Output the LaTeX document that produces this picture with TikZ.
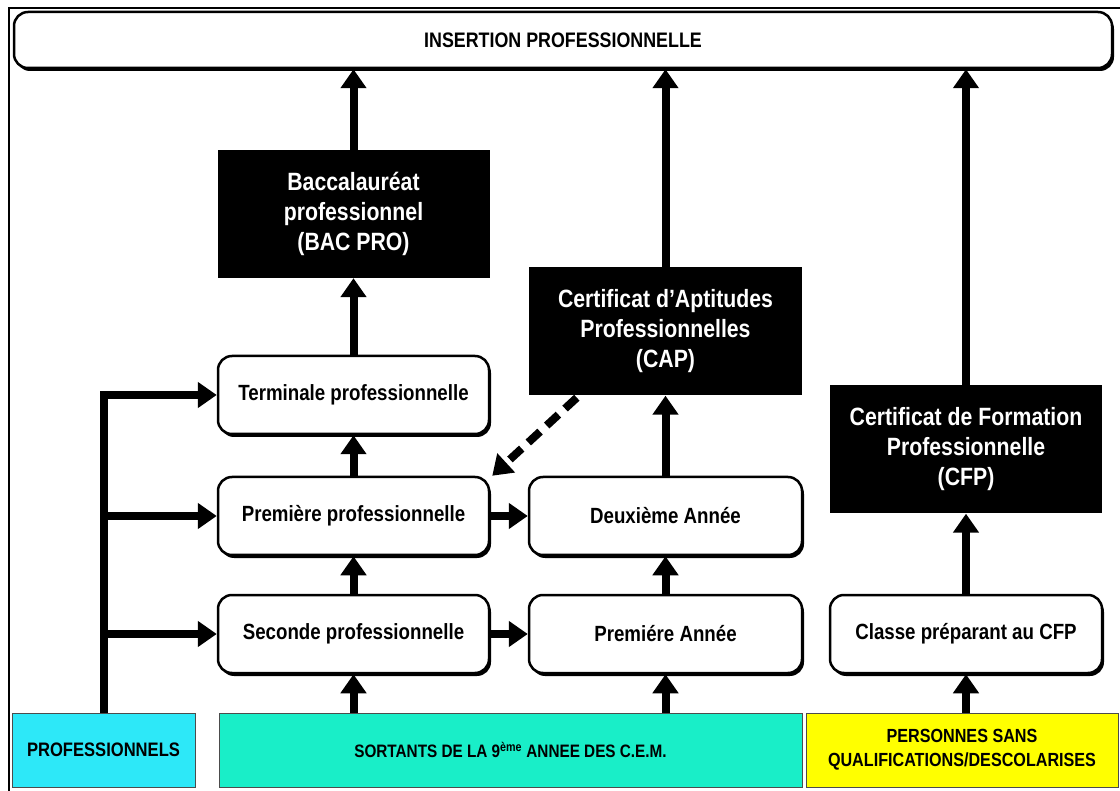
\documentclass[tikz,border=0pt]{standalone}
\usepackage{fontspec}
\setmainfont{Liberation Sans}[FakeStretch=0.85]
\usetikzlibrary{arrows.meta,shadows,calc}
\definecolor{cyanbox}{RGB}{45,232,248}
\definecolor{tealbox}{RGB}{25,238,200}
\definecolor{yelbox}{RGB}{255,255,0}
\tikzset{
  rbox/.style={draw, line width=2.5pt, rounded corners=14pt, fill=white,
    minimum height=78pt, align=center,
    font=\fontsize{22}{26}\selectfont\bfseries,
    drop shadow={shadow xshift=2pt,shadow yshift=-3pt,opacity=1,fill=black}},
  blk/.style={fill=black, text=white, minimum height=128pt, align=center,
    font=\fontsize{25}{30}\selectfont\bfseries},
  bot/.style={draw=black!70, line width=1pt, minimum height=74pt, align=center,
    font=\fontsize{19.5}{23}\selectfont\bfseries},
  arr/.style={line width=8pt, -{Triangle[width=25pt,length=19pt]}},
  darr/.style={line width=8pt, dash pattern=on 16pt off 9pt, -{Triangle[width=25pt,length=19pt]}}
}
\begin{document}
\begin{tikzpicture}[x=1pt,y=-1pt]
\useasboundingbox (0,0) rectangle (1120,791);
\fill[white] (0,0) rectangle (1120,791);
\draw[line width=2pt] (9,791) -- (9,8) -- (1120,8);
% top
\node[rbox, minimum width=1098pt, minimum height=56pt, font=\fontsize{21}{25}\selectfont\bfseries] (ins) at (563,40) {INSERTION PROFESSIONNELLE};
% black boxes
\node[blk, minimum width=272pt] (bac) at (353.5,214) {Baccalauréat\\professionnel\\(BAC PRO)};
\node[blk, minimum width=273pt] (cap) at (665.5,331.5) {Certificat d'Aptitudes\\Professionnelles\\(CAP)};
\node[blk, minimum width=272pt] (cfp) at (966,449.5) {Certificat de Formation\\Professionnelle\\(CFP)};
% white boxes
\node[rbox, minimum width=271pt] (term) at (353.5,395) {Terminale professionnelle};
\node[rbox, minimum width=271pt] (pp) at (353.5,516) {Première professionnelle};
\node[rbox, minimum width=271pt] (sp) at (353.5,634) {Seconde professionnelle};
\node[rbox, minimum width=273pt] (da) at (665.5,516) {Deuxième Année};
\node[rbox, minimum width=273pt] (pa) at (665.5,634) {Premiére Année};
\node[rbox, minimum width=272pt] (cl) at (966,634) {Classe préparant au CFP};
% bottom
\node[bot, fill=cyanbox, minimum width=183pt] (pro) at (103.5,750) {PROFESSIONNELS};
\node[bot, fill=tealbox, minimum width=583pt, font=\fontsize{18}{22}\selectfont\bfseries] (sort) at (510.5,750) {SORTANTS DE LA 9\textsuperscript{ème} ANNEE DES C.E.M.};
\node[bot, fill=yelbox, minimum width=312pt, font=\fontsize{19}{24}\selectfont\bfseries] (pers) at (962,750) {PERSONNES SANS\\QUALIFICATIONS/DESCOLARISES};
% arrows
\draw[arr] (bac.north) -- (bac.north |- ins.south);
\draw[arr] (cap.north) -- (cap.north |- ins.south);
\draw[arr] (cfp.north) -- (cfp.north |- ins.south);
\draw[arr] (term.north) -- (bac.south);
\draw[arr] (pp.north) -- (term.south);
\draw[arr] (sp.north) -- (pp.south);
\draw[arr] (pa.north) -- (da.south);
\draw[arr] (da.north) -- (cap.south);
\draw[arr] (cl.north) -- (cfp.south);
\draw[arr] (sp.south |- sort.north) -- (sp.south);
\draw[arr] (pa.south |- sort.north) -- (pa.south);
\draw[arr] (cl.south |- pers.north) -- (cl.south);
\draw[arr] (sp.east) -- (pa.west);
\draw[arr] (pp.east) -- (da.west);
\draw[arr] (pro.north) |- (term.west);
\draw[arr] (pro.north |- pp.west) -- (pp.west);
\draw[arr] (pro.north |- sp.west) -- (sp.west);
\draw[darr] ($(cap.south west)+(48,2)$) -- ($(pp.north east)+(2,0)$);
\end{tikzpicture}
\end{document}
